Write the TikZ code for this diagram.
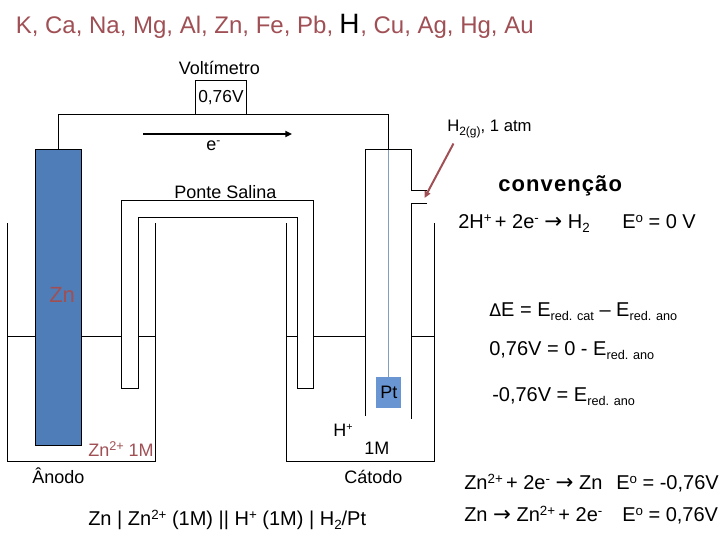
\documentclass[tikz,border=0pt]{standalone}
\usepackage{fontspec}
\setmainfont{Liberation Sans}
\usetikzlibrary{arrows.meta}
\definecolor{brick}{RGB}{160,80,85}
\definecolor{elblue}{RGB}{79,125,184}
\definecolor{ptblue}{RGB}{105,150,210}
\definecolor{wireblue}{RGB}{130,160,190}
\newfontfamily\symf{DejaVu Sans}
\newcommand{\pxfs}[1]{\fontsize{#1}{#1}\selectfont}
\newcommand{\arw}{{\symf\pxfs{16}→}}
\newcommand{\dlt}{{\symf\pxfs{13}Δ}}
\newcommand{\upo}[1]{\raisebox{4.5pt}{\pxfs{10}#1}}
\newcommand{\dno}[1]{\raisebox{-3pt}{\pxfs{10}#1}}
\newcommand{\dnr}[1]{\raisebox{-3pt}{\pxfs{9.5}#1}}
\tikzset{
  x=0.75pt,y=-0.75pt,
  wire/.style={draw=black,line width=0.75pt},
  lbl/.style={inner sep=0pt,anchor=base west,text=black},
  redlbl/.style={lbl,text=brick},
}
\begin{document}
\begin{tikzpicture}
\useasboundingbox (0,0) rectangle (720,540);
\fill[white] (0,0) rectangle (720,540);
% electrode
\node[draw=black,line width=0.75pt,fill=elblue,minimum width=34.5pt,minimum height=222pt,inner sep=0pt] (zn) at (58.5,297.5) {};
% left beaker
\coordinate (la) at (7.5,223); \coordinate (lb) at (7.5,461.5); \coordinate (lc) at (155.5,461.5); \coordinate (ld) at (155.5,223);
\draw[wire] (la) -- (lb) -- (lc) -- (ld);
% right beaker
\coordinate (ra) at (286.5,223); \coordinate (rb) at (286.5,461.5); \coordinate (rc) at (434.5,461.5); \coordinate (rd) at (434.5,223);
\draw[wire] (ra) -- (rb) -- (rc) -- (rd);
% liquid levels
\draw[wire] (7.5,336.5) -- (35.5,336.5) (81.5,336.5) -- (121.5,336.5) (138.5,336.5) -- (155.5,336.5);
\draw[wire] (286.5,336.5) -- (297.5,336.5) (313.5,336.5) -- (365.5,336.5) (411.5,336.5) -- (434.5,336.5);
% salt bridge
\draw[wire] (121.5,388.5) -- (121.5,200.5) -- (313.5,200.5) -- (313.5,388.5) -- (297.5,388.5) -- (297.5,217.5) -- (138.5,217.5) -- (138.5,388.5) -- cycle;
% voltmeter and wire
\node[draw=black,line width=0.75pt,minimum width=38.25pt,minimum height=25.5pt,inner sep=0pt] (vm) at (221,97.5) {};
\coordinate (wa) at (58.5,114.5); \coordinate (wb) at (388.5,114.5); \coordinate (wc) at (388.5,149.5);
\draw[wire] (zn.north) -- (wa) -- (wb) -- (wc);
% hydrogen tube
\draw[wire] (365.5,416) -- (365.5,149.5) -- (411.5,149.5) -- (411.5,190.5) -- (427,190.5);
\draw[wire] (427,203.5) -- (411.5,203.5) -- (411.5,418.5);
% Pt
\node[fill=ptblue,minimum width=18.75pt,minimum height=23.25pt,inner sep=0pt] (pt) at (388.5,392.5) {};
\draw[draw=wireblue,line width=0.9pt] (wc) -- (pt.north);
% arrows
\coordinate (ea) at (143,134); \coordinate (eb) at (292,134);
\draw[line width=1.5pt,-{Triangle[length=5pt,width=4.5pt]}] (ea) -- (eb);
\coordinate (ha) at (453.5,143.5); \coordinate (hb) at (424.5,198);
\draw[draw=brick,line width=1.5pt,-{Triangle[length=5pt,width=4.5pt]}] (ha) -- (hb);
% title
\node[redlbl] (t1) at (15.5,33) {\pxfs{18}K, Ca, Na, Mg, Al, Zn, Fe, Pb,};
\node[lbl] (t2) at (339,33) {\pxfs{21}H};
\node[redlbl] (t3) at (360,33) {\pxfs{18},~Cu, Ag, Hg, Au};
% labels
\node[lbl] (volt) at (178.5,74) {\pxfs{13.5}Voltímetro};
\node[lbl] (v) at (198,102.5) {\pxfs{13}0,76V};
\node[lbl] (elec) at (206,150) {\pxfs{13.5}e\raisebox{4pt}{\pxfs{9}-}};
\node[lbl] (ps) at (174,198) {\pxfs{13.5}Ponte Salina};
\node[lbl] (h2) at (447,131) {\pxfs{12.5}H\raisebox{-3pt}{\pxfs{9}2(g)}, 1 atm};
\node[lbl] (conv) at (498,191) {\pxfs{16.5}\bfseries\addfontfeature{LetterSpace=5}convenção};
\node[lbl] (r1) at (458,228) {\pxfs{15}2H\upo{+}\,+ 2e\upo{-} \arw\ H\dno{2}};
\node[lbl] (r1e) at (622,228) {\pxfs{15}E\upo{o} = 0 V};
\node[redlbl] (zl) at (49,302) {\pxfs{16.5}Zn};
\node[lbl] (de) at (489,316) {\pxfs{15}\dlt E = E\dnr{red. cat} – E\dnr{red. ano}};
\node[lbl] (d2) at (489,355) {\pxfs{15}0,76V = 0 - E\dnr{red. ano}};
\node[lbl] (d3) at (492,401) {\pxfs{15}-0,76V = E\dnr{red. ano}};
\node[lbl] (ptl) at (380,398.5) {\pxfs{13.5}Pt};
\node[lbl] (hp) at (333,436) {\pxfs{13.5}H\raisebox{4.5pt}{\pxfs{8}+}};
\node[lbl] (m1) at (364,454) {\pxfs{13.5}1M};
\node[redlbl] (zn2) at (88,456) {\pxfs{13.5}Zn\raisebox{4pt}{\pxfs{9.5}2+}\ 1M};
\node[lbl] (an) at (32,483) {\pxfs{13.5}Ânodo};
\node[lbl] (cat) at (344,483) {\pxfs{13.5}Cátodo};
\node[lbl] (cell) at (88,525) {\pxfs{15}Zn | Zn\upo{2+} (1M) || H\upo{+} (1M) | H\dno{2}/Pt};
\node[lbl] (s1) at (464,489) {\pxfs{15}Zn\upo{2+}\,+ 2e\upo{-} \arw\ Zn};
\node[lbl] (s1e) at (616,489) {\pxfs{15}E\upo{o} = -0,76V};
\node[lbl] (s2) at (464,521) {\pxfs{15}Zn \arw\ Zn\upo{2+}\,+ 2e\upo{-}};
\node[lbl] (s2e) at (622,521) {\pxfs{15}E\upo{o} = 0,76V};
\end{tikzpicture}
\end{document}
